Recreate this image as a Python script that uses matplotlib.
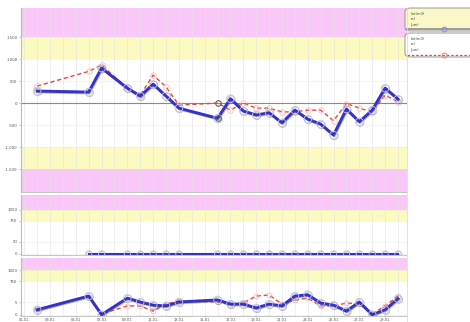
import matplotlib
matplotlib.use("Agg")
import matplotlib.pyplot as plt
import matplotlib.patheffects as pe
from matplotlib.patches import FancyBboxPatch
from matplotlib.lines import Line2D
import numpy as np

# x positions (sample index)
x_idx = [0, 4, 5, 7, 8, 9, 10, 11, 14, 15, 16, 17, 18, 19, 20, 21, 22, 23, 24, 25, 26, 27, 28]

# top panel
top_blue = [273, 250, 795, 340, 160, 430, 160, -115, -345, 100, -180, -270, -220, -447,
            -160, -365, -477, -727, -136, -424, -160, 340, 90]
top_red = [386, 720, 864, 340, 180, 636, 370, -45, 0, -160, 0, -115, -115, -200,
           -200, -160, -160, -400, -10, -115, -200, 180, 30]
top_ticks = [-1500, -1000, -500, 0, 500, 1000, 1500]
top_ticklabels = ["-1.500", "-1.000", "-500", "0", "500", "1.000", "1.500"]

# middle panel
mid_x = x_idx[1:]
mid_blue = [0] * len(mid_x)
mid_ticks = [0, 50, 137, 183]
mid_ticklabels = ["0", "50", "750", "1000"]

# bottom panel
bot_blue = [2.0, 7.3, 0.1, 6.5, 5.0, 3.8, 3.5, 5.0, 5.8, 4.2, 4.2, 2.7, 4.2, 3.5,
            7.3, 7.8, 4.6, 3.8, 1.5, 5.0, 0.1, 2.0, 6.3]
bot_red = [2.2, 7.0, 0.4, 3.5, 3.5, 1.5, 4.2, 5.4, 5.0, 4.0, 4.6, 7.3, 7.7, 4.2,
           5.8, 6.5, 3.5, 3.5, 4.6, 4.2, 0.4, 3.5, 7.3]
bot_ticks = [0, 5, 13, 17.3]
bot_ticklabels = ["0", "5", "750", "1000"]

xtick_pos = list(range(-1, 29, 2))
xtick_labels = ["%02d.01" % (i + 2) for i in xtick_pos]

PINK = "#f9c8f9"
YELLOW = "#fbfac0"
BLUE = "#3333cc"
RED = "#e8453c"
MK = "#c4c4f2"

fig = plt.figure(figsize=(4.70, 3.22), dpi=100)

def setup(ax, ylim, yellow, pink, ticks, labels):
    ax.set_xlim(-1.25, 28.7)
    ax.set_ylim(*ylim)
    lo, hi = ylim
    ax.axhspan(pink[1], hi, color=PINK, lw=0, zorder=0)
    ax.axhspan(yellow[0], yellow[1], color=YELLOW, lw=0, zorder=0)
    if pink[0] is not None:
        ax.axhspan(lo, pink[0], color=PINK, lw=0, zorder=0)
        ax.axhspan(yellow[2], yellow[3], color=YELLOW, lw=0, zorder=0)
    for xv in range(-1, 29):
        ax.axvline(xv, color="#e4e4e4", lw=0.4, zorder=0.5)
    for t in ticks:
        ax.axhline(t, color="#dddddd", lw=0.5, ls=":", zorder=0.5)
    ax.set_yticks(ticks)
    ax.set_yticklabels(labels, fontsize=2.8, color="#555555")
    ax.tick_params(axis="y", length=1.5, width=0.4, pad=1, colors="#999999", labelcolor="#555555")
    for s in ["top", "right"]:
        ax.spines[s].set_visible(False)
    ax.spines["left"].set_color("#bbbbbb")
    ax.spines["bottom"].set_color("#bbbbbb")
    ax.spines["left"].set_linewidth(0.8)
    ax.spines["bottom"].set_linewidth(0.6)

shadow = [pe.SimpleLineShadow(offset=(0.6, -0.6), shadow_color="#606060", alpha=0.45), pe.Normal()]

# top
ax1 = fig.add_axes([21 / 470, 1 - 192 / 322, 386 / 470, 184 / 322])
setup(ax1, (-2020, 2160), (1000, 1500, -1500, -1000), (-1500, 1500), top_ticks, top_ticklabels)
ax1.axhline(0, color="#888888", lw=0.8, zorder=1)
ax1.plot(x_idx, top_red, color=RED, lw=1.0, ls=(0, (3, 2)), marker="o", ms=4,
         mfc="none", mec="#f4b4b4", mew=0.5, zorder=3)
ax1.plot(x_idx, top_blue, color=BLUE, lw=2.1, marker="o", ms=5.5, mfc="none", mec=MK,
         mew=0.6, zorder=4, path_effects=shadow)
ax1.plot([x_idx[8]] * 2, [top_red[8], top_blue[8]], ls="none", marker="o", ms=4,
         mfc="none", mec="#506050", mew=0.7, zorder=5)
ax1.set_xticks([])

# middle
ax2 = fig.add_axes([21 / 470, 1 - 255 / 322, 386 / 470, 60 / 322])
setup(ax2, (-5, 245), (137, 183), (None, 183), mid_ticks, mid_ticklabels)
ax2.plot(mid_x, mid_blue, color=BLUE, lw=1.5, marker="o", ms=4.5, mfc="none", mec=MK,
         mew=0.6, zorder=4, path_effects=shadow)
ax2.set_xticks([])

# bottom
ax3 = fig.add_axes([21 / 470, 1 - 316 / 322, 386 / 470, 58 / 322])
setup(ax3, (-0.4, 22.0), (13, 17.3), (None, 17.3), bot_ticks, bot_ticklabels)
ax3.plot(x_idx, bot_red, color=RED, lw=1.0, ls=(0, (3, 2)), marker="o", ms=3.5,
         mfc="none", mec="#f4b4b4", mew=0.5, zorder=3)
ax3.plot(x_idx, bot_blue, color=BLUE, lw=2.1, marker="o", ms=5.5, mfc="none", mec=MK,
         mew=0.6, zorder=4, path_effects=shadow)
ax3.set_xticks(xtick_pos)
ax3.set_xticklabels(xtick_labels, fontsize=2.6, color="#555555")
ax3.tick_params(axis="x", length=1.0, width=0.4, pad=0.5, colors="#999999", labelcolor="#555555")

# legend boxes on the right
def legend_box(y0, y1, face, lines, color, ls, mec):
    x0, x1 = 405 / 470, 478 / 470
    fy0, fy1 = 1 - y1 / 322, 1 - y0 / 322
    box = FancyBboxPatch((x0, fy0), x1 - x0, fy1 - fy0, boxstyle="round,pad=0,rounding_size=0.012",
                         transform=fig.transFigure, facecolor=face, edgecolor="#888888", lw=0.6)
    fig.patches.append(box)
    for i, t in enumerate(lines):
        fig.text(x0 + 0.012, fy1 - 0.012 - i * 0.017, t, fontsize=2.6, color="#444444", va="top")
    ly = fy0 + 0.007
    ln = Line2D([x0 + 0.005, 1.0], [ly, ly], transform=fig.transFigure, color=color,
                lw=1.2 if ls == "-" else 0.9, ls=ls)
    fig.lines.append(ln)
    mk = Line2D([0.945], [ly], transform=fig.transFigure, marker="o", ms=3.5, mfc="none",
                mec=mec, mew=0.7, ls="none")
    fig.lines.append(mk)

legend_box(8, 31, "#fbf8c8", ["Lot(m3)", "rel", "(µm)"], "#8888aa", "-", "#8888dd")
legend_box(33, 57, "white", ["Lot(m3)", "rel", "(µm)"], RED, (0, (2, 1.5)), "#e08080")

# right border line
fig.lines.append(Line2D([407 / 470, 407 / 470], [0, 1 - 8 / 322], transform=fig.transFigure,
                        color="#dddddd", lw=0.6))

fig.savefig("out.png", dpi=100)
